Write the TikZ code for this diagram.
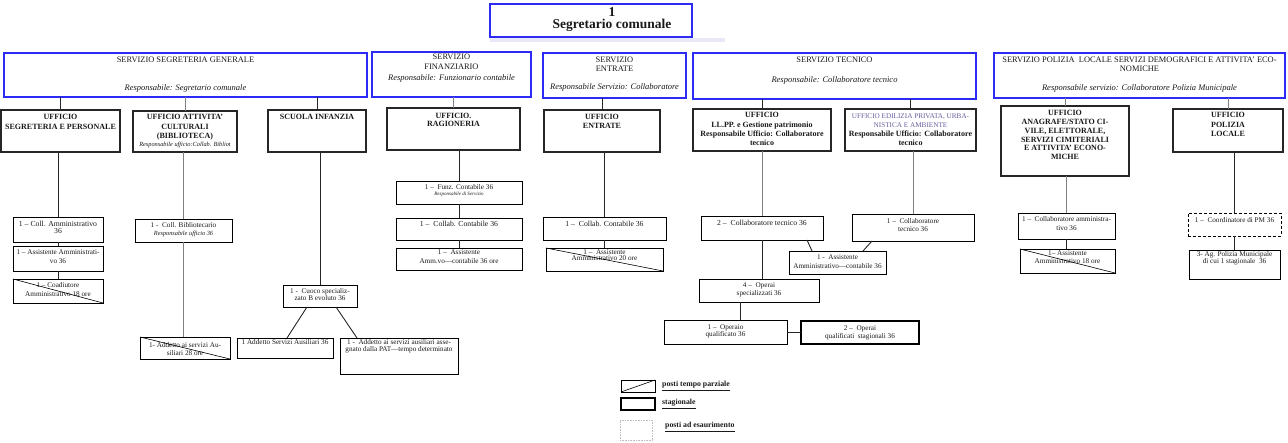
\documentclass[tikz,border=0pt]{standalone}
\usepackage{fontspec}
\setmainfont{Liberation Serif}
\definecolor{servblue}{HTML}{2B2BF5}
\definecolor{edil}{HTML}{6A5C9C}
\definecolor{shadeband}{HTML}{E8E8F8}
\newcommand{\fp}[1]{\fontsize{7.2}{#1}\selectfont}
\newcommand{\fpb}[1]{\fontsize{7.7}{#1}\selectfont}
\newcommand{\fpi}[1]{\fontsize{#1}{#1}\selectfont\itshape}
\newcommand{\fu}[1]{\fontsize{8}{#1}\selectfont\bfseries}
\newcommand{\fs}[1]{\fontsize{8.4}{#1}\selectfont}
\newcommand{\fr}{\fontsize{8.5}{9.5}\selectfont\itshape}
\newcommand{\ftop}{\fontsize{13.5}{12.5}\selectfont\bfseries}
\newcommand{\flegend}{\fontsize{7.8}{9}\selectfont\bfseries}
\newcommand{\bx}[6]{\node[#1, minimum width={#5pt-#3pt}, minimum height={#6pt-#4pt}] (#2) at ({(#3+#5)/2},{(#4+#6)/2}) {};}
\newcommand{\tx}[5][\fp{8.3}]{\node[txt, font=#1, anchor=north] (#2) at ([yshift=-#4pt]#3.north) {#5};}
\tikzset{
  obox/.style={draw, inner sep=0pt, outer sep=0pt},
  serv/.style={obox, draw=servblue, line width=1.2pt},
  uff/.style={obox, draw=black!85, line width=1.25pt},
  posbox/.style={obox, draw=black, line width=0.8pt},
  thickpos/.style={obox, draw=black, line width=2.4pt},
  dashpos/.style={obox, draw=black, line width=0.9pt, dash pattern=on 3pt off 2pt},
  dotbox/.style={obox, draw=black!25, line width=0.6pt, densely dotted},
  txt/.style={inner sep=0pt, align=center, text=black!90},
  conn/.style={draw=black!85, line width=0.9pt},
  conng/.style={draw=black!50, line width=0.9pt},
  diag/.style={draw=black, line width=0.6pt},
}
\begin{document}
\begin{tikzpicture}[x=1pt,y=-1pt]
\useasboundingbox (0,0) rectangle (1288,443);
\fill[shadeband] (490,38.5) rectangle (725,42);
% top
\bx{serv}{top}{490}{4}{692}{37}
\node[txt, font=\ftop, anchor=north] (topt) at (612,7) {1\\Segretario comunale};
% servizi
\bx{serv}{S1}{4}{53}{367}{97}
\tx[\fs{9}]{S1a}{S1}{4.2}{SERVIZIO SEGRETERIA GENERALE}
\tx[\fr]{S1b}{S1}{31.2}{Responsabile: Segretario comunale}
\bx{serv}{S2}{372}{52}{531}{97}
\tx[\fs{9.7}]{S2a}{S2}{2.2}{SERVIZIO\\FINANZIARIO}
\tx[\fr]{S2b}{S2}{22.2}{Responsabile: Funzionario contabile}
\bx{serv}{S3}{543}{53}{686}{98}
\tx[\fs{8.8}]{S3a}{S3}{4.2}{SERVIZIO\\ENTRATE}
\tx[\fr]{S3b}{S3}{30.2}{Responsabile Servizio: Collaboratore}
\bx{serv}{S4}{693}{53}{976}{99}
\tx[\fs{9}]{S4a}{S4}{4.2}{SERVIZIO TECNICO}
\tx[\fr]{S4b}{S4}{23.2}{Responsabile: Collaboratore tecnico}
\bx{serv}{S5}{994}{53}{1285}{98}
\tx[\fs{9}]{S5a}{S5}{4.2}{SERVIZIO POLIZIA\ \ LOCALE SERVIZI DEMOGRAFICI E ATTIVITA' ECO-\\NOMICHE}
\tx[\fr]{S5b}{S5}{31.2}{Responsabile servizio: Collaboratore Polizia Municipale}
% uffici
\bx{uff}{U1}{1}{110}{120}{152}
\tx[\fu{10}]{U1a}{U1}{4.3}{UFFICIO\\SEGRETERIA E PERSONALE}
\bx{uff}{U2}{133}{111}{237}{152}
\tx[\fu{9.5}]{U2a}{U2}{3.3}{UFFICIO ATTIVITA'\\CULTURALI\\(BIBLIOTECA)}
\tx[\fpi{6.3}]{U2b}{U2}{31}{Responsabile ufficio:Collab. Bibliot}
\bx{uff}{U3}{268}{110}{366}{152}
\tx[\fu{9}]{U3a}{U3}{4.3}{SCUOLA INFANZIA}
\bx{uff}{U4}{387}{108}{520}{150}
\tx[\fu{8}]{U4a}{U4}{5.3}{UFFICIO.\\RAGIONERIA}
\bx{uff}{U5}{544}{110}{660}{152}
\tx[\fu{9}]{U5a}{U5}{4.3}{UFFICIO\\ENTRATE}
\bx{uff}{U6}{693}{109}{831}{151}
\tx[\fu{9.4}]{U6a}{U6}{3.3}{UFFICIO\\LL.PP. e Gestione patrimonio\\Responsabile Ufficio: Collaboratore\\tecnico}
\bx{uff}{U7}{845}{109}{976}{151}
\tx[\fu{9}]{U7a}{U7}{4.3}{\textcolor{edil}{\mdseries\fontsize{7.2}{9}\selectfont UFFICIO EDILIZIA PRIVATA, URBA-}\\\textcolor{edil}{\mdseries\fontsize{7.2}{9}\selectfont NISTICA E AMBIENTE}\\Responsabile Ufficio: Collaboratore\\tecnico}
\bx{uff}{U8}{1001}{106}{1129}{176}
\tx[\fu{8.8}]{U8a}{U8}{4.3}{UFFICIO\\ANAGRAFE/STATO CI-\\VILE, ELETTORALE,\\SERVIZI CIMITERIALI\\E ATTIVITA' ECONO-\\MICHE}
\bx{uff}{U9}{1173}{109}{1283}{152}
\tx[\fu{9.5}]{U9a}{U9}{3.3}{UFFICIO\\POLIZIA\\LOCALE}
% servizio -> ufficio
\draw[conn] (S1.south -| U1.north) -- (U1.north);
\draw[conng] (S1.south -| U2.north) -- (U2.north);
\draw[conn] (S1.south -| U3.north) -- (U3.north);
\draw[conng] (S2.south -| U4.north) -- (U4.north);
\draw[conn] (S3.south -| U5.north) -- (U5.north);
\draw[conn] (S4.south -| U6.north) -- (U6.north);
\draw[conn] (S4.south -| U7.north) -- (U7.north);
\draw[conng] (S5.south -| U8.north) -- (U8.north);
\draw[conng] (S5.south -| U9.north) -- (U9.north);
% column 1
\bx{posbox}{P1}{13}{217}{103}{242}
\tx[\fpb{7}]{P1a}{P1}{4.4}{1 – Coll. Amministrativo\\36}
\bx{posbox}{P2}{13}{246}{103}{271}
\tx[\fp{9.5}]{P2a}{P2}{3.4}{1 – Assistente Amministrati-\\vo 36}
\bx{posbox}{P3}{13}{279}{103}{303}
\tx[\fp{8.5}]{P3a}{P3}{3.4}{1 – Coadiutore\\Amministrativo 18 ore}
\draw[diag] (P3.north west) -- (P3.south east);
\draw[conn] (P1.north) -- (P1.north |- U1.south);
\draw[conn] (P1.south) -- (P2.north);
\draw[conn] (P2.south) -- (P3.north);
% column 2
\bx{posbox}{P4}{135}{219}{232}{242}
\tx[\fp{8}]{P4a}{P4}{3.4}{1 -\ \ Coll. Bibliotecario}
\tx[\fpi{6.3}]{P4b}{P4}{11.5}{Responsabile ufficio 36}
\bx{posbox}{P5}{140}{337}{230}{359}
\tx[\fp{8.3}]{P5a}{P5}{5.5}{1- Addetto ai servizi Au-\\siliari 28 ore}
\draw[diag] (P5.north west) -- (P5.south east);
\draw[conng] (P4.north) -- (P4.north |- U2.south);
\draw[conng] (P4.south) -- (P4.south |- P5.north);
% column 3
\bx{posbox}{P6}{283}{285}{357}{307}
\tx[\fp{6.5}]{P6a}{P6}{3}{1 -\ \ Cuoco specializ-\\zato B evoluto 36}
\bx{posbox}{P7}{237}{338}{333}{358}
\tx[\fp{8}]{P7a}{P7}{1.2}{1 Addetto Servizi Ausiliari 36}
\bx{posbox}{P8}{340}{338}{458}{374}
\tx[\fp{7.5}]{P8a}{P8}{1.2}{1 -\ \ Addetto ai servizi ausiliari asse-\\gnato dalla PAT—tempo determinato}
\draw[conn] (P6.north) -- (P6.north |- U3.south);
\draw[conn] ([xshift=-13pt]P6.south) -- ([xshift=2pt]P7.north);
\draw[conn] ([xshift=16pt]P6.south) -- ([xshift=17pt]P8.north west);
% finanziario
\bx{posbox}{P9}{396}{181}{522}{204}
\tx[\fp{8}]{P9a}{P9}{3}{1 –\ \ Funz. Contabile 36}
\tx[\fpi{5}]{P9b}{P9}{11}{Responsabile di Servizio}
\bx{posbox}{P10}{396}{218}{522}{240}
\tx[\fpb{8}]{P10a}{P10}{3.4}{1 –\ \ Collab. Contabile 36}
\bx{posbox}{P11}{396}{248}{522}{270}
\tx[\fp{8.4}]{P11a}{P11}{1.8}{1 –\ \ Assistente\\Amm.vo—contabile 36 ore}
\draw[conn] (P9.north) -- (P9.north |- U4.south);
\draw[conn] (P9.south) -- (P10.north);
\draw[conn] (P10.south) -- (P11.north);
% entrate
\bx{posbox}{P12}{543}{217}{666}{240}
\tx[\fpb{8}]{P12a}{P12}{4.4}{1 –\ \ Collab. Contabile 36}
\bx{posbox}{P13}{546}{248}{663}{271}
\tx[\fp{5.5}]{P13a}{P13}{1.8}{1 –\ \ Assistente\\Amministrativo 20 ore}
\draw[diag] (P13.north west) -- (P13.south east);
\draw[conn] (P12.north) -- (P12.north |- U5.south);
\draw[conn] (P12.south) -- (P12.south |- P13.north);
% tecnico
\bx{posbox}{P14}{701}{216}{823}{240}
\tx[\fpb{8}]{P14a}{P14}{4.4}{2 –\ \ Collaboratore tecnico 36}
\bx{posbox}{P15}{789}{251}{886}{274}
\tx[\fp{8.4}]{P15a}{P15}{3.7}{1 -\ \ Assistente\\Amministrativo—contabile 36}
\bx{posbox}{P16}{852}{214}{974}{241}
\tx[\fp{8.3}]{P16a}{P16}{4.4}{1 –\ \ Collaboratore\\tecnico 36}
\bx{posbox}{P17}{699}{279}{819}{302}
\tx[\fp{8.3}]{P17a}{P17}{3.4}{4 –\ \ Operai\\specializzati 36}
\bx{posbox}{P18}{664}{320}{787}{344}
\tx[\fp{7}]{P18a}{P18}{4.7}{1 –\ \ Operaio\\qualificato 36}
\bx{thickpos}{P19}{801}{321}{919}{344}
\tx[\fp{8.3}]{P19a}{P19}{4.1}{2 –\ \ Operai\\qualificati\ \ stagionali 36}
\draw[conng] (P14.north) -- (P14.north |- U6.south);
\draw[conn] (P14.south) -- (P14.south |- P17.north);
\draw[conn] ([xshift=-16pt]P14.south east) -- ([xshift=23pt]P15.north west);
\draw[conn] ([xshift=20pt]P16.south west) -- ([xshift=-23pt]P15.north east);
\draw[conng] (P16.north) -- (P16.north |- U7.south);
\draw[conn] ([xshift=-19pt]P17.south) -- ([xshift=-19pt]P17.south |- P18.north);
\draw[conn] (P18.east) -- (P18.east -| P19.west);
% anagrafe
\bx{posbox}{P20}{1018}{213}{1115}{239}
\tx[\fp{8.4}]{P20a}{P20}{3.7}{1 –\ \ Collaboratore amministra-\\tivo 36}
\bx{posbox}{P21}{1020}{249}{1115}{273}
\tx[\fp{7.4}]{P21a}{P21}{1.8}{1– Assistente\\Amministrativo 18 ore}
\draw[diag] (P21.north west) -- (P21.south east);
\draw[conng] (P20.north) -- (P20.north |- U8.south);
\draw[conn] (P20.south) -- (P20.south |- P21.north);
% polizia locale
\bx{dashpos}{P22}{1188}{213}{1281}{236}
\tx[\fp{8}]{P22a}{P22}{4.4}{1 –\ \ Coordinatore di PM 36}
\bx{posbox}{P23}{1189}{250}{1280}{279}
\tx[\fp{7.3}]{P23a}{P23}{1}{3- Ag. Polizia Municipale\\di cui 1 stagionale\ \ 36}
\draw[conn] (P22.north) -- (P22.north |- U9.south);
\draw[conn] (P22.south) -- (P22.south |- P23.north);
% legend
\bx{posbox}{L1}{621}{380}{655}{392}
\draw[diag] (L1.south west) -- (L1.north east);
\node[txt, font=\flegend, anchor=west] (L1t) at (662,386) {\underline{posti tempo parziale}};
\bx{thickpos}{L2}{621}{398}{655}{410}
\node[txt, font=\flegend, anchor=west] (L2t) at (662,404) {\underline{stagionale}};
\bx{dotbox}{L3}{620}{420}{652}{440}
\node[txt, font=\flegend, anchor=west] (L3t) at (665,427) {\underline{posti ad esaurimento}};
\end{tikzpicture}
\end{document}
